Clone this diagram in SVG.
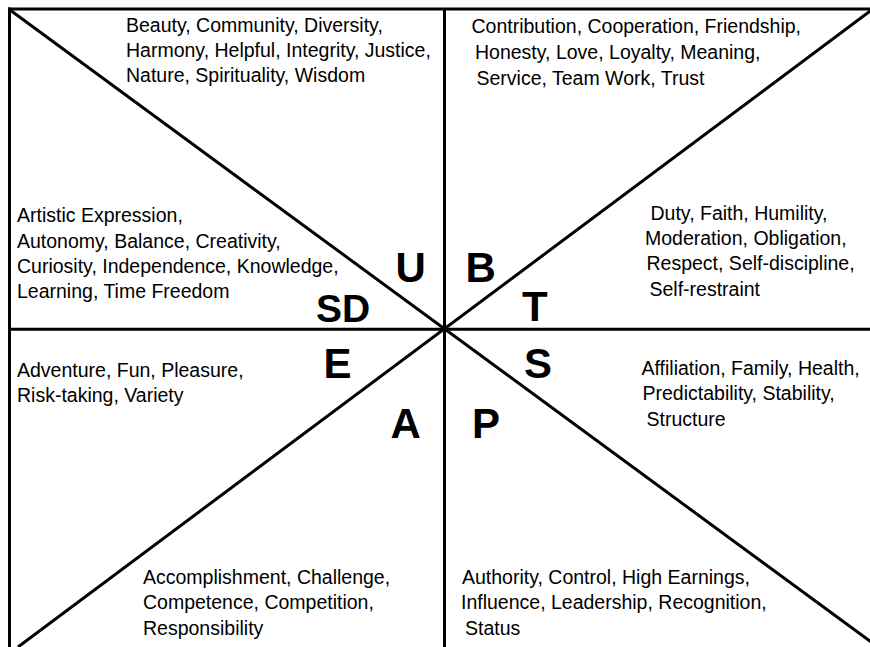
<svg xmlns="http://www.w3.org/2000/svg" width="870" height="647" viewBox="0 0 870 647">
  <style>
    .ln { stroke: #000; stroke-width: 3; fill: none; stroke-linecap: butt; }
    .txt { font-family: "Liberation Sans", Arial, sans-serif; font-size: 19.5px; fill: #000; }
    .key { font-family: "Liberation Sans", Arial, sans-serif; font-size: 42px; font-weight: bold; fill: #000; }
    .key-sm { font-size: 39px; }
  </style>
  <rect x="0" y="0" width="870" height="647" fill="#fff"/>

  <!-- frame, axes and diagonals -->
  <g id="connectors">
    <line class="ln" x1="8" y1="9" x2="870" y2="9"/>
    <line class="ln" x1="9.5" y1="7.5" x2="9.5" y2="647"/>
    <line class="ln" x1="444.5" y1="9" x2="444.5" y2="647"/>
    <line class="ln" x1="9.5" y1="329.3" x2="870" y2="329.3"/>
    <line class="ln" x1="10" y1="10" x2="878" y2="647"/>
    <line class="ln" x1="873" y1="9" x2="18" y2="647"/>
  </g>

  <!-- U sector -->
  <g id="sector-U">
    <text class="txt" x="126" y="31.7">Beauty, Community, Diversity,</text>
    <text class="txt" x="126" y="56.7">Harmony, Helpful, Integrity, Justice,</text>
    <text class="txt" x="126" y="81.7">Nature, Spirituality, Wisdom</text>
    <text class="key" x="395.5" y="282">U</text>
  </g>

  <!-- B sector -->
  <g id="sector-B">
    <text class="txt" x="471.5" y="33.3">Contribution, Cooperation, Friendship,</text>
    <text class="txt" x="475" y="59">Honesty, Love, Loyalty, Meaning,</text>
    <text class="txt" x="476.5" y="84.5">Service, Team Work, Trust</text>
    <text class="key" x="465.5" y="282">B</text>
  </g>

  <!-- SD sector -->
  <g id="sector-SD">
    <text class="txt" x="17" y="222.3">Artistic Expression,</text>
    <text class="txt" x="17" y="247.7">Autonomy, Balance, Creativity,</text>
    <text class="txt" x="17" y="272.7">Curiosity, Independence, Knowledge,</text>
    <text class="txt" x="17" y="298.3">Learning, Time Freedom</text>
    <text class="key key-sm" x="316" y="321.5">SD</text>
  </g>

  <!-- T sector -->
  <g id="sector-T">
    <text class="txt" x="650.5" y="220">Duty, Faith, Humility,</text>
    <text class="txt" x="645" y="245">Moderation, Obligation,</text>
    <text class="txt" x="646.5" y="270">Respect, Self-discipline,</text>
    <text class="txt" x="649.5" y="295.5">Self-restraint</text>
    <text class="key" x="522" y="321">T</text>
  </g>

  <!-- E sector -->
  <g id="sector-E">
    <text class="txt" x="17" y="376.7">Adventure, Fun, Pleasure,</text>
    <text class="txt" x="17" y="401.7">Risk-taking, Variety</text>
    <text class="key" x="323.5" y="378.3">E</text>
  </g>

  <!-- S sector -->
  <g id="sector-S">
    <text class="txt" x="641.5" y="375">Affiliation, Family, Health,</text>
    <text class="txt" x="642.5" y="400">Predictability, Stability,</text>
    <text class="txt" x="646.5" y="426">Structure</text>
    <text class="key" x="524" y="378.3">S</text>
  </g>

  <!-- A sector -->
  <g id="sector-A">
    <text class="txt" x="143" y="584">Accomplishment, Challenge,</text>
    <text class="txt" x="143" y="609">Competence, Competition,</text>
    <text class="txt" x="143" y="634.5">Responsibility</text>
    <text class="key" x="390.5" y="437.5">A</text>
  </g>

  <!-- P sector -->
  <g id="sector-P">
    <text class="txt" x="462" y="584">Authority, Control, High Earnings,</text>
    <text class="txt" x="461" y="609">Influence, Leadership, Recognition,</text>
    <text class="txt" x="465" y="634.5">Status</text>
    <text class="key" x="472" y="437.5">P</text>
  </g>
</svg>
